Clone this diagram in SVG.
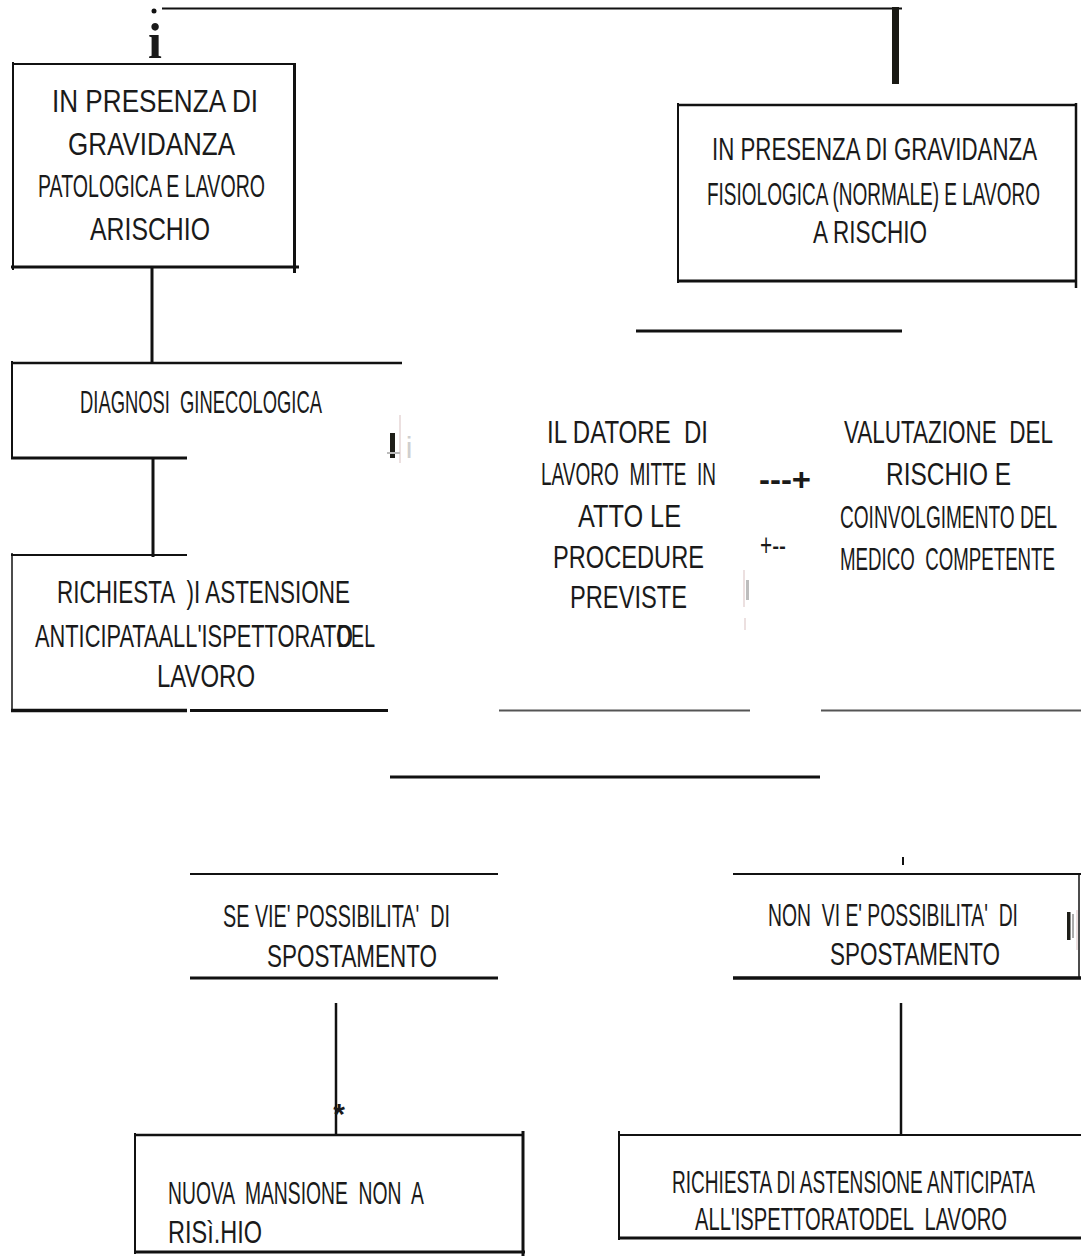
<svg xmlns="http://www.w3.org/2000/svg" width="1081" height="1256" viewBox="0 0 1081 1256" xml:space="preserve">
<style>
.t{font-family:"Liberation Sans Narrow","Liberation Sans",Arial,sans-serif;fill:#1a1a1a;font-size:32px;white-space:pre}
.e{stroke:#111;fill:none;stroke-linecap:butt}
.w2{stroke-width:2}
.w25{stroke-width:2.5}
.w3{stroke-width:3}
.g{stroke:#555}
.faint{stroke:#e6d6d6;stroke-width:1.5}
</style>
<rect width="1081" height="1256" fill="#fff"/>

<g id="connectors">
  <circle cx="154" cy="11" r="2.5" fill="#111"/>
  <line class="e w2" x1="162" y1="8.5" x2="902" y2="8.5"/>
  <rect x="892" y="7" width="7" height="77" fill="#1a1a14"/>
  <line class="e w3" x1="152" y1="267" x2="152" y2="363"/>
  <line class="e w3" x1="153" y1="457" x2="153" y2="557"/>
  <line class="e w3" x1="636" y1="331" x2="902" y2="331"/>
  <line class="e w3" x1="190" y1="710.5" x2="388" y2="710.5"/>
  <line class="e w2 g" x1="499" y1="710.5" x2="750" y2="710.5"/>
  <line class="e w2 g" x1="821" y1="710.5" x2="1081" y2="710.5"/>
  <line class="e w3" x1="390" y1="777" x2="820" y2="777"/>
  <line class="e w25" x1="336" y1="1003" x2="336" y2="1135"/>
  <line class="e w25" x1="901" y1="1003" x2="901" y2="1135"/>
  <line class="e w2" x1="903" y1="857" x2="903" y2="865"/>
  <text x="339" y="1124" font-family="Liberation Sans,Arial,sans-serif" font-size="30" font-weight="bold" fill="#1a1a1a" text-anchor="middle">*</text>
  <text x="155" y="58" font-family="Liberation Serif,Times New Roman,serif" font-size="50" font-weight="bold" fill="#1a1a1a" text-anchor="middle">i</text>
  <text class="t" x="759" y="490" font-size="30" font-weight="bold" textLength="52" lengthAdjust="spacingAndGlyphs">---+</text>
  <text class="t" x="760" y="556" font-size="20" textLength="26" lengthAdjust="spacingAndGlyphs">+--</text>
  <!-- faint marks -->
  <line class="faint" x1="400" y1="415" x2="400" y2="463"/>
  <rect x="390" y="433" width="5" height="25" fill="#1e1e18"/>
  <line x1="387" y1="453" x2="400" y2="453" stroke="#bbb" stroke-width="2"/>
  <text x="409" y="458" font-family="Liberation Sans,Arial,sans-serif" font-size="30" fill="#cfcfcf" text-anchor="middle">i</text>
  <line class="faint" x1="744" y1="570" x2="744" y2="607"/>
  <rect x="746" y="580" width="3" height="20" fill="#bdbdbd"/>
  <line class="faint" x1="745" y1="618" x2="745" y2="630"/>
  <line class="faint" x1="1077" y1="910" x2="1077" y2="950"/>
  <rect x="1067" y="912" width="3.5" height="28" fill="#1e1e18"/>
  <rect x="1072" y="914" width="2" height="24" fill="#aaa"/>
</g>

<g id="node-patologica">
  <line class="e w2" x1="12" y1="64" x2="296" y2="64"/>
  <line class="e w2" x1="13" y1="62" x2="13" y2="270"/>
  <line class="e w3" x1="294.5" y1="64" x2="294.5" y2="273"/>
  <line class="e w3" x1="11" y1="267" x2="299" y2="267"/>
  <text class="t" x="52" y="112" textLength="206" lengthAdjust="spacingAndGlyphs">IN PRESENZA DI</text>
  <text class="t" x="68" y="155" textLength="167" lengthAdjust="spacingAndGlyphs">GRAVIDANZA</text>
  <text class="t" x="38" y="197" textLength="227" lengthAdjust="spacingAndGlyphs">PATOLOGICA E LAVORO</text>
  <text class="t" x="90" y="240" textLength="120" lengthAdjust="spacingAndGlyphs">ARISCHIO</text>
</g>

<g id="node-fisiologica">
  <line class="e w25" x1="677" y1="105" x2="1076" y2="105"/>
  <line class="e w2" x1="678" y1="103" x2="678" y2="283"/>
  <line class="e w3" x1="677" y1="281" x2="1077" y2="281"/>
  <line class="e w25" x1="1076" y1="103" x2="1076" y2="288"/>
  <text class="t" x="712" y="160" textLength="325" lengthAdjust="spacingAndGlyphs">IN PRESENZA DI GRAVIDANZA</text>
  <text class="t" x="707" y="205" textLength="333" lengthAdjust="spacingAndGlyphs">FISIOLOGICA (NORMALE) E LAVORO</text>
  <text class="t" x="813" y="243" textLength="114" lengthAdjust="spacingAndGlyphs">A RISCHIO</text>
</g>

<g id="node-diagnosi">
  <line class="e w25" x1="11" y1="363" x2="402" y2="363"/>
  <line class="e w2" x1="12" y1="361" x2="12" y2="459"/>
  <line class="e w3" x1="11" y1="458" x2="187" y2="458"/>
  <text class="t" x="80" y="413" textLength="242" lengthAdjust="spacingAndGlyphs">DIAGNOSI  GINECOLOGICA</text>
</g>

<g id="node-richiesta-1">
  <line class="e w2" x1="11" y1="555" x2="187" y2="555"/>
  <line class="e" stroke-width="1.5" x1="12" y1="553" x2="12" y2="712"/>
  <line class="e" stroke-width="3.5" x1="11" y1="710.5" x2="187" y2="710.5"/>
  <text class="t" x="57" y="603" textLength="293" lengthAdjust="spacingAndGlyphs">RICHIESTA  )I ASTENSIONE</text>
  <text class="t" x="35" y="647" textLength="318" lengthAdjust="spacingAndGlyphs">ANTICIPATAALL'ISPETTORATO</text>
  <text class="t" x="337" y="647" textLength="38" lengthAdjust="spacingAndGlyphs">DEL</text>
  <text class="t" x="157" y="687" textLength="98" lengthAdjust="spacingAndGlyphs">LAVORO</text>
</g>

<g id="node-datore">
  <text class="t" x="547" y="443" textLength="161" lengthAdjust="spacingAndGlyphs">IL DATORE  DI</text>
  <text class="t" x="541" y="485" textLength="175" lengthAdjust="spacingAndGlyphs">LAVORO  MITTE  IN</text>
  <text class="t" x="578" y="527" textLength="103" lengthAdjust="spacingAndGlyphs">ATTO LE</text>
  <text class="t" x="553" y="568" textLength="151" lengthAdjust="spacingAndGlyphs">PROCEDURE</text>
  <text class="t" x="570" y="608" textLength="117" lengthAdjust="spacingAndGlyphs">PREVISTE</text>
</g>

<g id="node-valutazione">
  <text class="t" x="844" y="443" textLength="209" lengthAdjust="spacingAndGlyphs">VALUTAZIONE  DEL</text>
  <text class="t" x="886" y="485" textLength="125" lengthAdjust="spacingAndGlyphs">RISCHIO E</text>
  <text class="t" x="840" y="528" textLength="217" lengthAdjust="spacingAndGlyphs">COINVOLGIMENTO DEL</text>
  <text class="t" x="840" y="570" textLength="215" lengthAdjust="spacingAndGlyphs">MEDICO  COMPETENTE</text>
</g>

<g id="node-possibile">
  <line class="e w2" x1="190" y1="874" x2="498" y2="874"/>
  <line class="e w3" x1="190" y1="978" x2="498" y2="978"/>
  <text class="t" x="223" y="927" font-size="30" textLength="227" lengthAdjust="spacingAndGlyphs">SE VIE' POSSIBILITA'  DI</text>
  <text class="t" x="267" y="967" font-size="35" textLength="170" lengthAdjust="spacingAndGlyphs">SPOSTAMENTO</text>
</g>

<g id="node-non-possibile">
  <line class="e w2" x1="733" y1="874" x2="1081" y2="874"/>
  <line class="e" stroke="#999" stroke-width="1.5" x1="1079" y1="874" x2="1079" y2="978"/>
  <line class="e" stroke-width="3.5" x1="733" y1="978" x2="1081" y2="978"/>
  <text class="t" x="768" y="926" font-size="30" textLength="250" lengthAdjust="spacingAndGlyphs">NON  VI E' POSSIBILITA'  DI</text>
  <text class="t" x="830" y="965" font-size="35" textLength="170" lengthAdjust="spacingAndGlyphs">SPOSTAMENTO</text>
</g>

<g id="node-nuova-mansione">
  <line class="e w25" x1="134" y1="1135" x2="523" y2="1135"/>
  <line class="e w2" x1="135" y1="1133" x2="135" y2="1254"/>
  <line class="e w3" x1="523" y1="1131" x2="523" y2="1256"/>
  <line class="e w3" x1="134" y1="1252" x2="525" y2="1252"/>
  <text class="t" x="168" y="1204" font-size="30" textLength="256" lengthAdjust="spacingAndGlyphs">NUOVA  MANSIONE  NON  A</text>
  <text class="t" x="168" y="1243" font-size="31" textLength="94" lengthAdjust="spacingAndGlyphs">RISì.HIO</text>
</g>

<g id="node-richiesta-2">
  <line class="e w2" x1="618" y1="1135" x2="1081" y2="1135"/>
  <line class="e w2" x1="619" y1="1131" x2="619" y2="1240"/>
  <line class="e w3" x1="618" y1="1238" x2="1081" y2="1238"/>
  <text class="t" x="672" y="1193" font-size="30" textLength="363" lengthAdjust="spacingAndGlyphs">RICHIESTA DI ASTENSIONE ANTICIPATA</text>
  <text class="t" x="695" y="1230" font-size="30" textLength="312" lengthAdjust="spacingAndGlyphs">ALL'ISPETTORATODEL  LAVORO</text>
</g>
</svg>
